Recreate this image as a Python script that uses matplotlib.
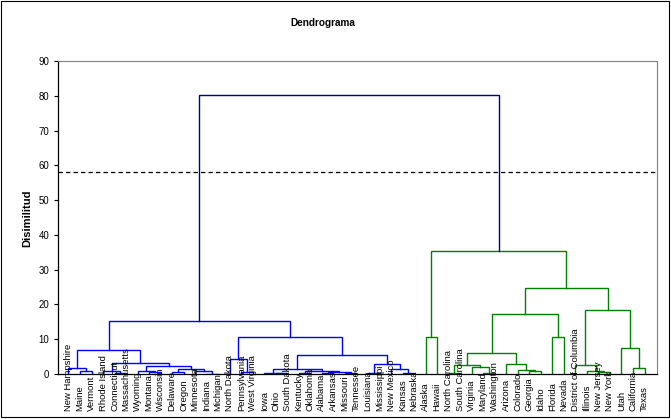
import matplotlib
matplotlib.use("Agg")
import matplotlib.pyplot as plt
from matplotlib.patches import Rectangle

plt.rcParams['font.family'] = ['Liberation Sans', 'DejaVu Sans']

# leaf order as shown on the x axis
states = ["New Hampshire", "Maine", "Vermont", "Rhode Island", "Connecticut",
          "Massachusetts", "Wyoming", "Montana", "Wisconsin", "Delaware",
          "Oregon", "Minnesota", "Indiana", "Michigan", "North Dakota",
          "Pennsylvania", "West Virginia", "Iowa", "Ohio", "South Dakota",
          "Kentucky", "Oklahoma", "Alabama", "Arkansas", "Missouri",
          "Tennessee", "Louisiana", "Mississippi", "New Mexico", "Kansas",
          "Nebraska", "Alaska", "Hawaii", "North Carolina", "South Carolina",
          "Virginia", "Maryland", "Washington", "Arizona", "Colorado",
          "Georgia", "Idaho", "Florida", "Nevada", "District of Columbia",
          "Illinois", "New Jersey", "New York", "Utah", "California", "Texas"]

# merges: (left, right, dissimilarity); str = state, int = earlier merge index
links = [
    ("Maine", "Vermont", 0.98),              # 0
    ("New Hampshire", 0, 1.84),              # 1
    ("Connecticut", "Massachusetts", 0.25),  # 2
    ("Rhode Island", 2, 0.95),               # 3
    ("Montana", "Wisconsin", 0.5),           # 4
    ("Wyoming", 4, 0.97),                    # 5
    ("Delaware", "Oregon", 0.5),             # 6
    ("Indiana", "Michigan", 0.1),            # 7
    ("Minnesota", 7, 0.8),                   # 8
    (6, 8, 1.55),                            # 9
    (5, 9, 2.4),                             # 10
    (3, 10, 3.3),                            # 11
    (1, 11, 7.0),                            # 12
    ("Pennsylvania", "West Virginia", 0.55), # 13
    ("North Dakota", 13, 4.2),               # 14
    ("Ohio", "South Dakota", 0.2),           # 15
    ("Iowa", 15, 0.4),                       # 16
    ("Kentucky", "Oklahoma", 0.4),           # 17
    ("Alabama", "Arkansas", 0.35),           # 18
    ("Missouri", "Tennessee", 0.25),         # 19
    (18, 19, 0.55),                          # 20
    (17, 20, 0.85),                          # 21
    (16, 21, 1.55),                          # 22
    ("Louisiana", "Mississippi", 0.4),       # 23
    ("Kansas", "Nebraska", 0.15),            # 24
    ("New Mexico", 24, 1.3),                 # 25
    (23, 25, 2.8),                           # 26
    (22, 26, 5.57),                          # 27
    (14, 27, 10.5),                          # 28
    (12, 28, 15.15),                         # 29
    ("Alaska", "Hawaii", 10.75),             # 30
    ("North Carolina", "South Carolina", 0.2),  # 31
    ("Maryland", "Washington", 0.15),        # 32
    ("Virginia", 32, 2.1),                   # 33
    (31, 33, 2.7),                           # 34
    ("Georgia", "Idaho", 0.75),              # 35
    ("Colorado", 35, 1.06),                  # 36
    ("Arizona", 36, 3.0),                    # 37
    (34, 37, 6.15),                          # 38
    ("Florida", "Nevada", 10.75),            # 39
    (38, 39, 17.35),                         # 40
    ("New Jersey", "New York", 0.65),        # 41
    ("Illinois", 41, 0.95),                  # 42
    ("District of Columbia", 42, 2.7),       # 43
    ("California", "Texas", 1.84),           # 44
    ("Utah", 44, 7.6),                       # 45
    (43, 45, 18.5),                          # 46
    (40, 46, 24.8),                          # 47
    (30, 47, 35.5),                          # 48
    (29, 48, 80.3),                          # 49
]

cut_height = 58
cluster_colors = iter(["#0000ff", "#008000"])

fig = plt.figure(figsize=(6.71, 4.19), dpi=100)
ax = fig.add_axes([0.0864, 0.1074, 0.8927, 0.747])


def draw(ref, color=None):
    if isinstance(ref, str):
        return states.index(ref) + 1, 0.0
    left, right, h = links[ref]
    if h >= cut_height:
        c, child_c = "#000080", None
    else:
        c = color or next(cluster_colors)
        child_c = c
    xl, hl = draw(left, child_c)
    xr, hr = draw(right, child_c)
    ax.plot([xl, xl, xr, xr], [hl, h, h, hr], color=c, lw=1.0,
            solid_joinstyle="miter", zorder=2)
    return (xl + xr) / 2, h


draw(len(links) - 1)

ax.axhline(cut_height, color="black", lw=0.9, ls=(0, (3.5, 2.5)), zorder=1)

ax.set_xlim(0.09, 52.08)
ax.set_ylim(0, 90)
ax.set_yticks(range(0, 91, 10))
ax.set_xticks([])
ax.tick_params(axis="y", direction="out", length=3, width=0.8, pad=3.2,
               labelsize=6.9)
for side in ["top", "right"]:
    ax.spines[side].set_color("#808080")
    ax.spines[side].set_linewidth(0.8)
for side in ["left", "bottom"]:
    ax.spines[side].set_color("black")
    ax.spines[side].set_linewidth(0.9)

for i, s in enumerate(states):
    ax.text(i + 1, -0.1182, s, transform=ax.get_xaxis_transform(),
            rotation=90, ha="center", va="bottom", fontsize=6.8, zorder=3)

fig.text(322.5 / 671, 1 - 23 / 419, "Dendrograma", ha="center", va="center",
         fontsize=7.2, fontweight="bold")
fig.text(27 / 671, 1 - 218 / 419, "Disimilitud", ha="center", va="center",
         rotation=90, fontsize=8, fontweight="bold")

fig.patches.append(Rectangle((0.00075, 0.0036), 0.997, 0.9952,
                             transform=fig.transFigure, fill=False,
                             edgecolor="black", lw=0.8))

fig.savefig("out.png", dpi=100)
